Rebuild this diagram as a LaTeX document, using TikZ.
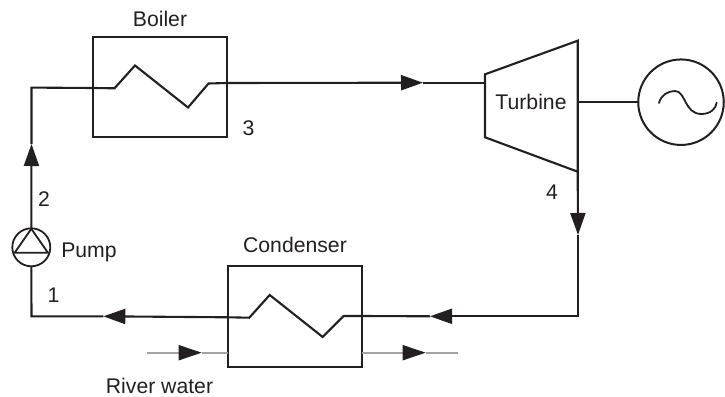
\documentclass[tikz,border=0pt]{standalone}
\usepackage{fontspec}
\setmainfont{Liberation Sans}
\usetikzlibrary{arrows.meta}
\definecolor{ink}{HTML}{231F20}
\definecolor{water}{HTML}{A3A3A3}
\tikzset{
  every node/.style={text=ink,font=\fontsize{21.2}{24}\selectfont,inner sep=0pt,outer sep=0pt},
  line/.style={draw=ink,line width=2.1pt,line join=miter},
  thinline/.style={draw=ink,line width=1.8pt},
  unitbox/.style={draw=ink,line width=2.1pt,rectangle,minimum width=133.4pt,minimum height=100.4pt},
  flow/.style={draw=ink,line width=2.1pt,-{Triangle[length=22pt,width=15pt,fill=ink]}},
  waterline/.style={draw=water,line width=1.8pt},
  waterflow/.style={draw=water,line width=1.8pt,-{Triangle[length=23pt,width=15pt,color=ink,fill=ink]}},
}
\begin{document}
\begin{tikzpicture}[x=1pt,y=-1pt]
\useasboundingbox (0,0) rectangle (725,396);
% main units
\node[unitbox] (boiler) at (160,86.9) {};
\node[unitbox] (condenser) at (295,316.4) {};
\node[draw=ink,line width=1.8pt,circle,minimum size=38pt] (pump) at (31.3,247.3) {};
\node[draw=ink,line width=2pt,circle,minimum size=85.5pt] (gen) at (681,102.2) {};
% turbine
\coordinate (tTL) at (485,74.3);
\coordinate (tTR) at (577.7,40.7);
\coordinate (tBR) at (577.7,171.7);
\coordinate (tBL) at (485,137.3);
\draw[line] (tTL) -- (tTR) -- (tBR) -- (tBL) -- cycle;
\node (turbine) at (531,102) {Turbine};
% coils
\coordinate (bIn) at (boiler.west |- 0,88);
\coordinate (bOut) at (boiler.east |- 0,83);
\draw[line] (bIn) -- (114.5,88.3) -- (135,65.5) -- (188,107.5) -- (208.5,83.5) -- (bOut);
\coordinate (cIn) at (condenser.east |- 0,316);
\coordinate (cOut) at (condenser.west |- 0,317.3);
\draw[line] (cOut) -- (249.3,317.7) -- (269.7,295) -- (322.7,337) -- (343.7,316) -- (cIn);
% pump triangle
\coordinate (pA) at (31.3,228.8);
\coordinate (pB) at (14.6,252.8);
\coordinate (pC) at (48,252.8);
\draw[thinline,line join=round] (pA) -- (pB) -- (pC) -- cycle;
% generator sine
\draw[thinline,line cap=round] (659,103) .. controls (661,95) and (668,91) .. (675,91)
  .. controls (686,91) and (684,114) .. (701.5,114)
  .. controls (710,114) and (716,109) .. (716.7,102.7);
% circuit connectors with tips
\coordinate (c1) at (31.5,87.6);
\coordinate (t1) at (31.5,144);
\draw[line] (bIn) -- (c1) -- (t1);
\draw[flow] (pump.north) -- (t1);
\coordinate (t2) at (423,82.7);
\draw[flow] (bOut) -- (t2);
\coordinate (tIn) at (tTL |- t2);
\draw[line] (t2) -- (tIn);
\coordinate (shaft) at (tTR |- gen.west);
\draw[thinline] (shaft) -- (gen.west);
\coordinate (t3) at (578,235);
\draw[flow] (tBR) -- (t3);
\coordinate (c2) at (578,316.3);
\coordinate (t4) at (430,316.3);
\draw[flow] (t3) -- (c2) -- (t4);
\draw[line] (t4) -- (cIn);
\coordinate (t5) at (103.3,316.3);
\draw[flow] (cOut) -- (t5);
\coordinate (c3) at (31.5,316.3);
\draw[line] (t5) -- (c3) -- (pump.south);
% river water
\coordinate (rw1) at (147.3,352.7);
\coordinate (t6) at (201.7,352.7);
\coordinate (rw2) at (condenser.west |- rw1);
\draw[waterflow] (rw1) -- (t6);
\draw[waterline] (t6) -- (rw2);
\coordinate (rw3) at (condenser.east |- rw1);
\coordinate (t7) at (425.7,352.7);
\coordinate (rw4) at (457.7,352.7);
\draw[waterflow] (rw3) -- (t7);
\draw[waterline] (t7) -- (rw4);
% labels
\node (lboiler) at (160,19) {Boiler};
\node (l3) at (248.5,128) {3};
\node (l2) at (44,199) {2};
\node (lpump) at (89,252.5) {Pump};
\node (l1) at (53.5,295) {1};
\node (lcond) at (295,245) {Condenser};
\node (lriver) at (159.5,385.5) {River water};
\node (l4) at (552,192) {4};
\end{tikzpicture}
\end{document}
